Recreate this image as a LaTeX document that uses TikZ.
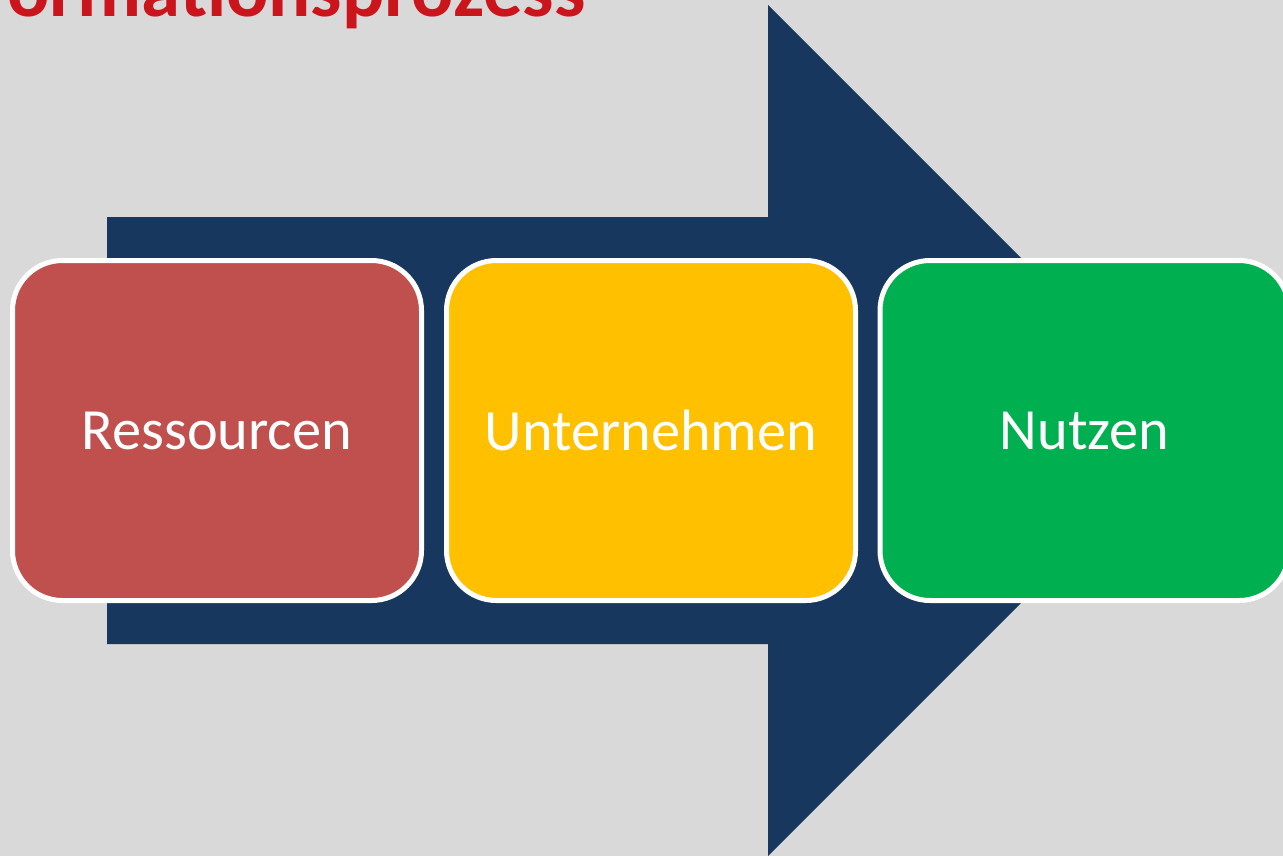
\documentclass[tikz,border=0pt]{standalone}
\usepackage{fontspec}
\setmainfont{Carlito}
\definecolor{bg}{HTML}{D9D9D9}
\definecolor{navy}{HTML}{17375E}
\definecolor{boxred}{HTML}{C0504D}
\definecolor{boxyellow}{HTML}{FFC000}
\definecolor{boxgreen}{HTML}{00B050}
\definecolor{titlered}{HTML}{C9151B}
\tikzset{
  stage/.style={draw=white, line width=3pt, rounded corners=30pt,
    minimum width=409*0.6pt, minimum height=340*0.6pt, inner sep=0pt,
    text=white, font=\fontsize{35}{40}\selectfont},
  bigarrow/.style={fill=navy, draw=none}
}
\begin{document}
\begin{tikzpicture}[x=0.6pt, y=-0.6pt]
\useasboundingbox (0,0) rectangle (1283,856);
\clip (0,0) rectangle (1283,856);
\fill[bg] (0,0) rectangle (1283,856);
\node[anchor=base west, inner sep=0pt, text=titlered, font=\fontsize{47.3}{50}\selectfont\bfseries] (title) at (7,16) {ormationsprozess};
\fill[bigarrow] (107,217) -- (768,217) -- (768,5) -- (1193.5,430.5) -- (768,856) -- (768,644) -- (107,644) -- cycle;
\node[stage, fill=boxred] (res) at (217,430.5) {Ressourcen};
\node[stage, fill=boxyellow] (unt) at (651,430.5) {Unternehmen};
\node[stage, fill=boxgreen] (nut) at (1084.5,430.5) {Nutzen};
\end{tikzpicture}
\end{document}
